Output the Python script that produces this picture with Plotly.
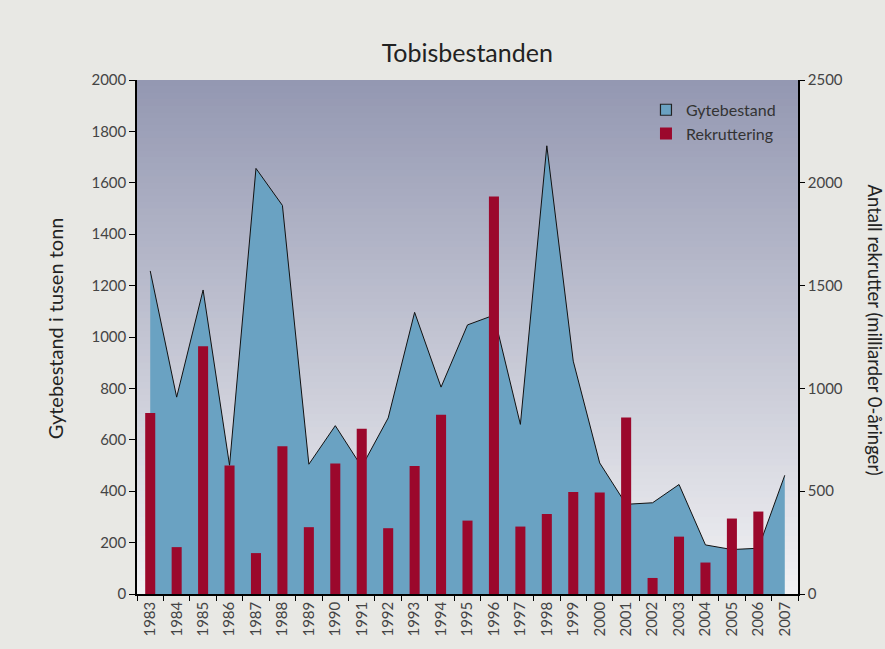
import plotly.graph_objects as go

years = [str(y) for y in range(1983, 2008)]
gytebestand = [1257, 766, 1183, 501, 1656, 1512, 505, 655, 495, 685, 1096, 805, 1047,
               1085, 660, 1744, 906, 510, 349, 355, 426, 191, 173, 178, 462]
rekruttering = [880, 228, 1205, 625, 199, 719, 325, 635, 804, 320, 622, 872, 357,
                1933, 328, 389, 496, 494, 859, 78, 279, 153, 367, 401, None]

left_ticks = list(range(0, 2001, 200))
right_ticks = list(range(0, 2501, 500))

FONT = "Lato"
TXT = "#333333"
AREA = "#6aa2c2"
BAR = "#9b082c"

fig = go.Figure()
fig.add_trace(go.Scatter(
    x=years, y=gytebestand, name="Gytebestand", mode="lines",
    line=dict(color="#111111", width=1), fill="tozeroy", fillcolor=AREA,
    yaxis="y", showlegend=False, legendgroup="g",
))
# legend swatch for the area series
fig.add_trace(go.Scatter(
    x=[None], y=[None], name="Gytebestand", mode="markers", legendgroup="g",
    marker=dict(symbol="square", size=11, color=AREA, line=dict(color="#222222", width=1.2)),
))
fig.add_trace(go.Bar(
    x=years, y=rekruttering, name="Rekruttering", marker=dict(color=BAR, line=dict(width=0)),
    width=0.38, yaxis="y2",
))

# gradient background for plot area
shapes = []
n = 80
top = (148, 152, 178)
bot = (241, 241, 243)
for i in range(n):
    t = i / (n - 1)
    c = tuple(round(top[k] + (bot[k] - top[k]) * t) for k in range(3))
    shapes.append(dict(type="rect", xref="x domain", yref="y domain",
                       x0=0, x1=1, y0=max(0, 1 - (i + 1) / n - 0.006), y1=1 - i / n,
                       fillcolor=f"rgb{c}", line=dict(width=0), layer="below"))

fig.update_layout(
    width=885, height=649,
    margin=dict(l=137, r=87, t=80, b=53),
    paper_bgcolor="#e8e8e4", plot_bgcolor="rgba(0,0,0,0)",
    font=dict(family=FONT, color=TXT, size=15),
    title=dict(text="Tobisbestanden", x=0.528, xref="container", xanchor="center",
               y=0.918, yref="container", yanchor="middle",
               font=dict(size=25, color="#222222", family=FONT)),
    shapes=shapes,
    showlegend=True,
    legend=dict(x=0.77, y=0.975, xanchor="left", yanchor="top",
                bgcolor="rgba(0,0,0,0)", font=dict(size=16, color="#333333"),
                itemwidth=30, tracegroupgap=8, traceorder="normal"),
    xaxis=dict(type="category", range=[-0.5, 24.5], tickangle=-90,
               tickson="boundaries", ticks="outside", ticklen=5, tickcolor="black",
               showline=True, linecolor="black", linewidth=1.5, showgrid=False,
               tickfont=dict(size=15, color="#444444"), zeroline=False),
    yaxis=dict(range=[0, 2000], tickvals=left_ticks, ticks="outside", ticklen=6,
               tickcolor="black", showline=True, linecolor="black", linewidth=1.5,
               showgrid=False, zeroline=False, tickfont=dict(size=15, color="#444444")),
    yaxis2=dict(range=[0, 2500], tickvals=right_ticks, overlaying="y", side="right",
                ticks="outside", ticklen=5, tickcolor="black", showline=True,
                linecolor="black", linewidth=1.5, showgrid=False, zeroline=False,
                tickfont=dict(size=15, color="#444444")),
    annotations=[
        dict(text="Gytebestand i tusen tonn", xref="paper", yref="paper",
             x=-0.124, y=0.517, textangle=-90, showarrow=False,
             font=dict(size=20, color="#222222"), xanchor="center", yanchor="middle"),
        dict(text="Antall rekrutter (milliarder 0-åringer)", xref="paper", yref="paper",
             x=1.117, y=0.514, textangle=90, showarrow=False,
             font=dict(size=18.5, color="#222222"), xanchor="center", yanchor="middle"),
    ],
)

fig.write_html("out.html", config={"displayModeBar": False},
               post_script="document.body.style.margin='0';document.body.style.padding='0';")
